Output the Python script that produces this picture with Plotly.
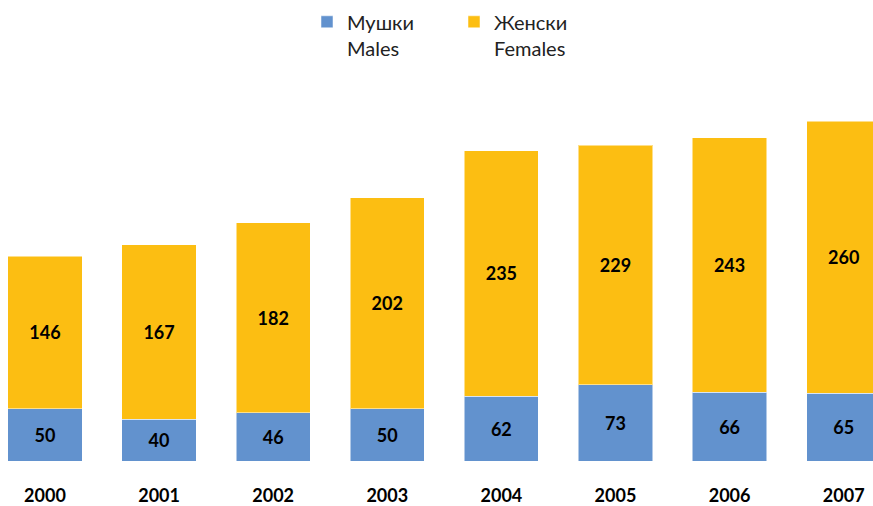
import plotly.graph_objects as go

years = ["2000", "2001", "2002", "2003", "2004", "2005", "2006", "2007"]
males = [50, 40, 46, 50, 62, 73, 66, 65]
females = [146, 167, 182, 202, 235, 229, 243, 260]

male_name = "Мушки<br>Males"
female_name = "Женски<br>Females"

blue = "#6292CE"
yellow = "#FCBE12"

xpos = list(range(len(years)))
label_font = dict(family="Lato", size=18, color="black", weight="bold")

fig = go.Figure()
fig.add_trace(go.Bar(
    x=xpos, y=males, name=male_name, width=0.65,
    marker=dict(color=blue, line=dict(color="rgba(255,255,255,0.5)", width=1)),
    text=males, textposition="inside", insidetextanchor="middle",
    textfont=label_font, textangle=0,
))
fig.add_trace(go.Bar(
    x=xpos, y=females, name=female_name, width=0.65,
    marker=dict(color=yellow, line=dict(color="rgba(255,255,255,0.5)", width=1)),
    text=females, textposition="inside", insidetextanchor="middle",
    textfont=label_font, textangle=0,
))

fig.update_layout(
    barmode="stack",
    width=873, height=506,
    margin=dict(l=0, r=0, t=0, b=45),
    paper_bgcolor="white", plot_bgcolor="white",
    font=dict(family="Lato", color="black"),
    showlegend=True,
    legend=dict(
        orientation="h", x=307 / 873, xanchor="left", y=0.995, yanchor="top",
        font=dict(family="Lato", size=20, color="#222"),
        valign="top", traceorder="normal", itemwidth=30,
        entrywidthmode="pixels", entrywidth=102,
    ),
    xaxis=dict(
        range=[-0.394, 7.257], tickvals=xpos, ticktext=years,
        showgrid=False, zeroline=False, showline=False, ticks="",
        tickfont=dict(family="Lato", size=18, color="black", weight="bold"),
        ticklabelstandoff=22,
    ),
    yaxis=dict(
        range=[0, 441], visible=False, showgrid=False, zeroline=False,
    ),
)

fig.write_html("out.html")
